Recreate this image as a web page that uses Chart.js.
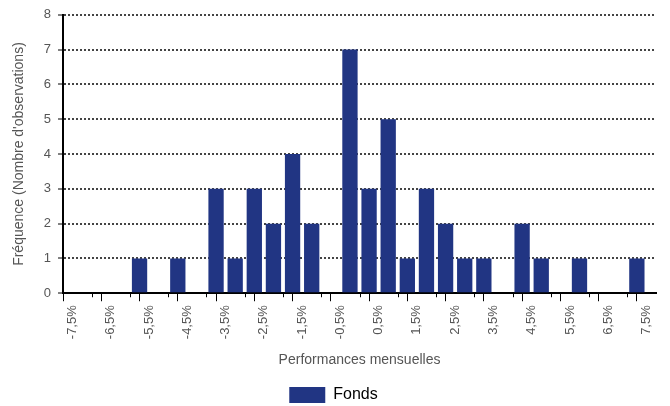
<!DOCTYPE html>
<html>
<head>
<meta charset="utf-8">
<script src="https://cdn.jsdelivr.net/npm/chart.js@4/dist/chart.umd.min.js"></script>
<style>
html,body{margin:0;padding:0;background:#fff;}
#wrap{width:670px;height:406px;}
</style>
</head>
<body>
<div id="wrap"><canvas id="c" width="670" height="406"></canvas></div>
<script>
const binEdges = [-7.5,-7.0,-6.5,-6.0,-5.5,-5.0,-4.5,-4.0,-3.5,-3.0,-2.5,-2.0,-1.5,-1.0,-0.5,0.0,0.5,1.0,1.5,2.0,2.5,3.0,3.5,4.0,4.5,5.0,5.5,6.0,6.5,7.0,7.5];
const tickLabels = {"-7.5":"-7,5%","-6.5":"-6,5%","-5.5":"-5,5%","-4.5":"-4,5%","-3.5":"-3,5%","-2.5":"-2,5%","-1.5":"-1,5%","-0.5":"-0,5%","0.5":"0,5%","1.5":"1,5%","2.5":"2,5%","3.5":"3,5%","4.5":"4,5%","5.5":"5,5%","6.5":"6,5%","7.5":"7,5%"};
const counts = [0,0,0,1,0,1,0,3,1,3,2,4,2,0,7,3,5,1,3,2,1,1,0,2,1,0,1,0,0,1];
const seriesName = "Fonds";
const yTicks = [0,1,2,3,4,5,6,7,8];
const xTitle = "Performances mensuelles";
const yTitle = "Fréquence (Nombre d'observations)";

const points = counts.map((c,i)=>({x:(binEdges[i]+binEdges[i+1])/2, y:c}));
const grey = '#555555';
const font = 'Arial, "Liberation Sans", sans-serif';
const isMajor = v => Object.prototype.hasOwnProperty.call(tickLabels, String(v));

const minorTicks = {
  id: 'minorTicks',
  afterDraw(chart) {
    const s = chart.scales.x, ctx = chart.ctx;
    ctx.save();
    ctx.strokeStyle = '#000';
    ctx.lineWidth = 1;
    ctx.beginPath();
    binEdges.forEach(v => {
      if (isMajor(v)) return;
      const px = Math.round(s.getPixelForValue(v)) + 0.5;
      ctx.moveTo(px, s.top);
      ctx.lineTo(px, s.top + 4);
    });
    ctx.stroke();
    ctx.restore();
  }
};

new Chart(document.getElementById('c'), {
  type: 'bar',
  data: { datasets: [{ label: seriesName, data: points, backgroundColor: '#213583', borderWidth: 0, categoryPercentage: 1, barPercentage: 0.8 }] },
  options: {
    responsive: false,
    animation: false,
    devicePixelRatio: 1,
    layout: { padding: { left: 11, right: 14, top: 8, bottom: -7 } },
    plugins: {
      tooltip: { enabled: false },
      legend: {
        position: 'bottom',
        labels: { boxWidth: 36, boxHeight: 16, color: '#000', font: { family: font, size: 16 }, padding: 1 }
      }
    },
    scales: {
      x: {
        type: 'linear',
        min: binEdges[0], max: binEdges[binEdges.length-1],
        afterBuildTicks: s => { s.ticks = binEdges.map(v => ({ value: v })); },
        ticks: {
          autoSkip: false, minRotation: 90, maxRotation: 90, color: grey,
          font: { family: font, size: 13 }, padding: 4,
          callback: v => tickLabels[String(v)] || ''
        },
        grid: {
          drawOnChartArea: false, drawTicks: true, tickLength: 8, tickWidth: 1,
          tickColor: c => (c.tick && isMajor(c.tick.value)) ? '#000' : 'rgba(0,0,0,0)'
        },
        border: { display: true, color: '#000', width: 2 },
        title: { display: true, text: xTitle, color: grey, font: { family: font, size: 14 }, padding: { top: 9, bottom: 17 } }
      },
      y: {
        min: 0, max: 8,
        afterBuildTicks: s => { s.ticks = yTicks.map(v => ({ value: v })); },
        ticks: { color: grey, font: { family: font, size: 13 }, padding: 7 },
        grid: { color: '#444', lineWidth: 2, tickColor: '#000', tickLength: 5, tickWidth: 1 },
        border: { display: true, color: '#000', width: 2, dash: [2,2] },
        title: { display: true, text: yTitle, color: grey, font: { family: font, size: 14 }, padding: { top: 0, bottom: 9 } }
      }
    }
  },
  plugins: [minorTicks]
});
</script>
</body>
</html>
